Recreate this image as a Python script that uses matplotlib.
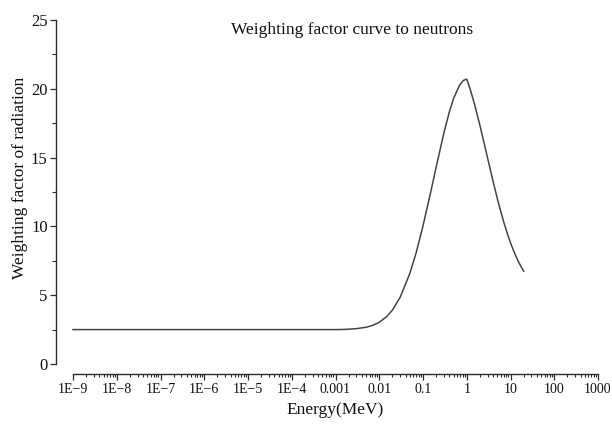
import matplotlib
matplotlib.use("Agg")
import matplotlib.pyplot as plt
from matplotlib.ticker import FixedLocator, NullFormatter

energy = [1e-9, 1e-6, 1e-3, 0.0015, 0.002, 0.003, 0.005, 0.007, 0.01, 0.015, 0.02, 0.03,
          0.05, 0.07, 0.1, 0.15, 0.2, 0.3, 0.4, 0.5, 0.7, 0.85, 1.0,
          1.2, 1.5, 2.0, 2.5, 3.0, 4.0, 5.0, 6.0, 7.0, 8.5, 10.0, 12.0, 15.0, 17.0, 20.0]
weight = [2.5, 2.5, 2.5, 2.51, 2.53, 2.57, 2.67, 2.8, 3.03, 3.46, 3.92, 4.84,
          6.58, 8.1, 10.04, 12.49, 14.31, 16.79, 18.32, 19.3, 20.32, 20.62, 20.7,
          19.96, 18.9, 17.34, 16.03, 14.96, 13.27, 12.02, 11.08, 10.32, 9.46, 8.81, 8.16, 7.47, 7.14, 6.75]

xtick_vals = [1e-9, 1e-8, 1e-7, 1e-6, 1e-5, 1e-4, 1e-3, 1e-2, 1e-1, 1, 10, 100, 1000]
xtick_labels = ["1E\u22129", "1E\u22128", "1E\u22127", "1E\u22126", "1E\u22125", "1E\u22124",
                "0.001", "0.01", "0.1", "1", "10", "100", "1000"]
ytick_vals = [0, 5, 10, 15, 20, 25]

title = "Weighting factor curve to neutrons"
xlabel = "Energy(MeV)"
ylabel = "Weighting factor of radiation"

plt.rcParams['font.family'] = ['Liberation Serif', 'DejaVu Serif']
ink = '#2e2a28'

fig = plt.figure(figsize=(6.12, 4.24), dpi=100)
ax = fig.add_axes([56/612, 1 - 364/424, (598 - 56)/612, (364 - 20)/424])

ax.plot(energy, weight, color='#4a4340', lw=1.1)

ax.set_xscale('log')
ax.set_xlim(10**(-9 - 17/43.75), 1e3)
ax.set_ylim(0, 25)

for s in ['top', 'right']:
    ax.spines[s].set_visible(False)
ax.spines['bottom'].set_position(('outward', 7.2))
ax.spines['bottom'].set_bounds(1e-9, 1e3)
ax.spines['left'].set_bounds(0, 25)
for s in ['bottom', 'left']:
    ax.spines[s].set_color(ink)
    ax.spines[s].set_linewidth(1.0)

ax.xaxis.set_major_locator(FixedLocator(xtick_vals))
ax.set_xticklabels(xtick_labels)
minor_x = [m * d for d in xtick_vals[:-1] for m in range(2, 10)]
ax.xaxis.set_minor_locator(FixedLocator(minor_x))
ax.xaxis.set_minor_formatter(NullFormatter())
ax.set_yticks(ytick_vals)
ax.yaxis.set_minor_locator(FixedLocator([2.5, 7.5, 12.5, 17.5, 22.5]))

ax.tick_params(axis='x', which='major', direction='out', length=4.5, width=0.9, colors=ink,
               labelsize=10, pad=2)
ax.tick_params(axis='x', which='minor', direction='out', length=2.5, width=0.8, colors=ink)
ax.tick_params(axis='y', which='major', direction='out', length=4, width=0.9, colors=ink,
               labelsize=12, pad=2)
ax.tick_params(axis='y', which='minor', direction='out', length=3, width=0.8, colors=ink)

for lbl in ax.get_xticklabels() + ax.get_yticklabels():
    lbl.set_color('#111111')

fig.text(20/612, 1 - 178/424, ylabel, ha='center', va='center', rotation=90,
         fontsize=12.5, color='#111111')
fig.text(335/612, 1 - 410/424, xlabel, ha='center', va='center', fontsize=12.5, color='#111111')
fig.text(352/612, 1 - 30/424, title, ha='center', va='center', fontsize=12.5, color='#111111')

fig.savefig('out.png', dpi=100)
